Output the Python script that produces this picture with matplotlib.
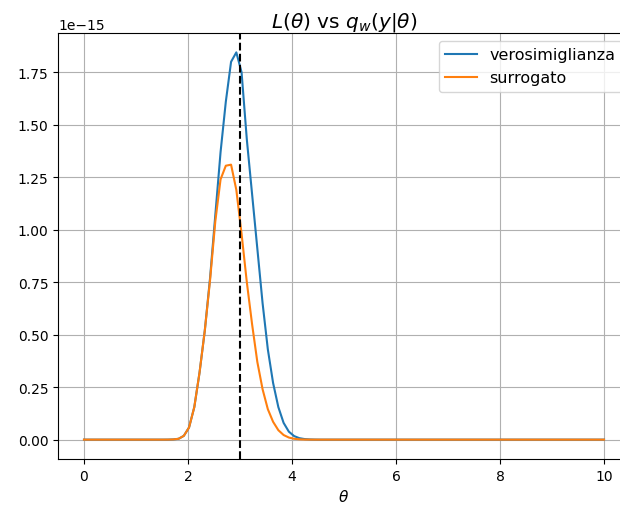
import numpy as np
import matplotlib
matplotlib.use("Agg")
import matplotlib.pyplot as plt

theta = np.linspace(0, 10, 100)

# values in units of 1e-15, indices 16..44 nonzero; others zero
lik_mid = [0.0002, 0.001, 0.004, 0.018, 0.058, 0.155, 0.32, 0.52, 0.77, 1.07,
           1.37, 1.61, 1.80, 1.845, 1.75, 1.43, 1.17, 0.91, 0.65, 0.43,
           0.27, 0.155, 0.08, 0.038, 0.017, 0.007, 0.0027, 0.001, 0.0003]
sur_mid = [0.0002, 0.001, 0.004, 0.018, 0.058, 0.155, 0.32, 0.52, 0.76, 1.04,
           1.24, 1.305, 1.31, 1.19, 0.98, 0.75, 0.55, 0.37, 0.24, 0.145,
           0.085, 0.045, 0.022, 0.010, 0.004, 0.0015, 0.0005, 0.0002, 0.0]
verosimiglianza = [0.0] * 16 + lik_mid + [0.0] * 55
surrogato = [0.0] * 16 + sur_mid + [0.0] * 55
theta_true = 3.0

lik = np.array(verosimiglianza) * 1e-15
sur = np.array(surrogato) * 1e-15

fig = plt.figure(figsize=(6.2, 5.1), dpi=100)
ax = fig.add_axes([58 / 620, 50 / 510, 572 / 620, 426 / 510])
ax.plot(theta, lik, label="verosimiglianza")
ax.plot(theta, sur, label="surrogato")
ax.axvline(theta_true, color="k", linestyle="--")
ax.set_title(r"$L(\theta)$ vs $q_w(y|\theta)$", fontsize=14.5, pad=5)
ax.set_xlabel(r"$\theta$", fontsize=11)
ax.grid(True)
ax.spines["right"].set_visible(False)
ax.legend(loc="upper right", fontsize=11.5)
fig.savefig("out.png", dpi=100)
